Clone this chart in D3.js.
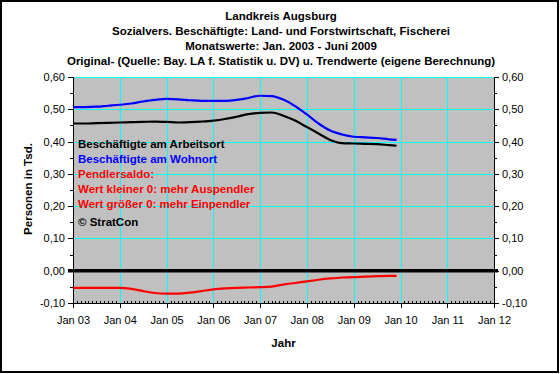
<!DOCTYPE html>
<html>
<head>
<meta charset="utf-8">
<script src="https://cdn.jsdelivr.net/npm/d3@7"></script>
<style>
  html, body { margin: 0; padding: 0; background: #fff; }
  svg { display: block; }
  text { font-family: Arial, "Liberation Sans", sans-serif; }
</style>
</head>
<body>
<svg id="chart" width="560" height="374"></svg>
<script>
// ---- Data ----
const months = ["2003-01","2003-04","2003-07","2003-10",
                "2004-01","2004-04","2004-07","2004-10",
                "2005-01","2005-04","2005-07","2005-10",
                "2006-01","2006-04","2006-07","2006-10",
                "2007-01","2007-04","2007-07","2007-10",
                "2008-01","2008-04","2008-07","2008-10",
                "2009-01","2009-04","2009-07","2009-10","2009-12"];
const arbeitsort = [0.456,0.456,0.457,0.458, 0.459,0.460,0.461,0.462,
                    0.461,0.459,0.460,0.462, 0.465,0.470,0.477,0.485,
                    0.489,0.490,0.480,0.465, 0.445,0.425,0.405,0.395,
                    0.394,0.393,0.392,0.389,0.387];
const wohnort    = [0.507,0.507,0.508,0.511, 0.514,0.518,0.524,0.529,
                    0.532,0.531,0.528,0.526, 0.526,0.526,0.529,0.535,
                    0.542,0.541,0.530,0.510, 0.484,0.456,0.434,0.422,
                    0.415,0.413,0.411,0.407,0.405];
const saldo      = [-0.053,-0.053,-0.053,-0.053, -0.053,-0.056,-0.063,-0.069,
                    -0.071,-0.071,-0.068,-0.063, -0.058,-0.055,-0.053,-0.052,
                    -0.051,-0.049,-0.043,-0.038, -0.033,-0.028,-0.024,-0.021,
                    -0.020,-0.018,-0.017,-0.016,-0.016];
const xTickYears  = [2003,2004,2005,2006,2007,2008,2009,2010,2011,2012];
const xTickLabels = ["Jan 03","Jan 04","Jan 05","Jan 06","Jan 07","Jan 08","Jan 09","Jan 10","Jan 11","Jan 12"];
const yTicks      = [-0.1,0,0.1,0.2,0.3,0.4,0.5,0.6];
const yTickLabels = ["-0,10","0,00","0,10","0,20","0,30","0,40","0,50","0,60"];
const titleLines  = ["Landkreis Augsburg",
                     "Sozialvers. Beschäftigte: Land- und Forstwirtschaft, Fischerei",
                     "Monatswerte: Jan. 2003 - Juni 2009",
                     "Original- (Quelle: Bay. LA f. Statistik u. DV) u. Trendwerte (eigene Berechnung)"];
const noteLines   = ["Beschäftigte am Arbeitsort","Beschäftigte am Wohnort","Pendlersaldo:",
                     "Wert kleiner 0: mehr Auspendler","Wert größer 0: mehr Einpendler","© StratCon"];
const noteColors  = ["#000000","#0000ff","#ff0000","#ff0000","#ff0000","#000000"];
const xLabel = "Jahr";
const yLabel = "Personen in Tsd.";

// ---- Layout ----
const svg = d3.select("#chart");
const L = 73, R = 494, T = 77, B = 303;
const parse = d3.timeParse("%Y-%m");
const dates = months.map(parse);

const x = d3.scaleTime().domain([new Date(2003,0,1), new Date(2012,0,1)]).range([L, R]);
const y = d3.scaleLinear().domain([-0.1, 0.6]).range([B, T]);

// outer frame
svg.append("rect").attr("x",1).attr("y",1).attr("width",557).attr("height",371)
  .attr("fill","#fff").attr("stroke","#000").attr("stroke-width",2);

// plot background
svg.append("rect").attr("x",L).attr("y",T).attr("width",R-L).attr("height",B-T)
  .attr("fill","#c0c0c0");

// gridlines
const grid = svg.append("g").attr("stroke","#00ffff").attr("stroke-width",1).attr("shape-rendering","crispEdges");
xTickYears.slice(1,-1).forEach(yr => {
  const xx = Math.round(x(new Date(yr,0,1))) + 0.5;
  grid.append("line").attr("x1",xx).attr("x2",xx).attr("y1",T).attr("y2",B);
});
yTicks.filter(v => v > 0.001).forEach(v => {
  const yy = Math.round(y(v)) + 0.5;
  grid.append("line").attr("x1",L).attr("x2",R).attr("y1",yy).attr("y2",yy);
});

// axes
const fmtY = (d) => yTickLabels[yTicks.findIndex(t => Math.abs(t-d) < 1e-9)];
const leftAxis = d3.axisLeft(y).tickValues(yTicks).tickFormat(fmtY).tickSize(5).tickPadding(3);
const rightAxis = d3.axisRight(y).tickValues(yTicks).tickFormat(fmtY).tickSize(5).tickPadding(3);
const xTickDates = xTickYears.map(yr => new Date(yr,0,1));
const bottomAxis = d3.axisBottom(x).tickValues(xTickDates)
  .tickFormat((d,i) => xTickLabels[i]).tickSize(5).tickPadding(8);

function styleAxis(g) {
  g.selectAll("path,line").attr("stroke","#000").attr("shape-rendering","crispEdges");
  g.selectAll("text").attr("font-size","11px").attr("fill","#000")
   .attr("font-family","Arial, 'Liberation Sans', sans-serif");
  g.select(".domain").attr("stroke-width",1);
}
svg.append("g").attr("transform",`translate(${L},0)`).call(leftAxis).call(styleAxis)
  .call(g => g.select(".domain").attr("d", `M0,${T}V${B}`));
svg.append("g").attr("transform",`translate(${R},0)`).call(rightAxis).call(styleAxis)
  .call(g => g.select(".domain").attr("d", `M0,${T}V${B}`));
svg.append("g").attr("transform",`translate(0,${B})`).call(bottomAxis).call(styleAxis)
  .call(g => g.select(".domain").attr("d", `M${L},0H${R}`));

// minor ticks
const minorY = d3.range(-0.05, 0.6, 0.1);
minorY.forEach(v => {
  const yy = Math.round(y(v)) + 0.5;
  svg.append("line").attr("x1",L-3).attr("x2",L).attr("y1",yy).attr("y2",yy).attr("stroke","#000");
  svg.append("line").attr("x1",R).attr("x2",R+3).attr("y1",yy).attr("y2",yy).attr("stroke","#000");
});
const minorX = d3.timeMonth.range(new Date(2003,0,1), new Date(2012,0,1)).filter(d => d.getMonth() !== 0);
minorX.forEach(d => {
  const xx = Math.round(x(d)) + 0.5;
  svg.append("line").attr("x1",xx).attr("x2",xx).attr("y1",B-2).attr("y2",B).attr("stroke","#000")
    .attr("shape-rendering","crispEdges");
});

// zero line
svg.append("line").attr("x1",L-5).attr("x2",R+4).attr("y1",y(0)).attr("y2",y(0))
  .attr("stroke","#000").attr("stroke-width",3.5);

// series
const line = (vals) => d3.line().x((d,i) => x(dates[i])).y(d => y(d)).curve(d3.curveMonotoneX)(vals);
svg.append("path").attr("d", line(saldo)).attr("fill","none").attr("stroke","#ff0000").attr("stroke-width",2.2);
svg.append("path").attr("d", line(arbeitsort)).attr("fill","none").attr("stroke","#000000").attr("stroke-width",2.2);
svg.append("path").attr("d", line(wohnort)).attr("fill","none").attr("stroke","#0000ff").attr("stroke-width",2.2);

// title
titleLines.forEach((t,i) => {
  svg.append("text").attr("x",281).attr("y",20 + i*15).attr("text-anchor","middle")
    .attr("font-size","11.5px").attr("font-weight","bold").attr("fill","#000").text(t);
});

// notes
noteLines.forEach((t,i) => {
  const yy = [148,163,178,193,208,226][i];
  svg.append("text").attr("x",78).attr("y",yy)
    .attr("font-size","11.5px").attr("font-weight","bold").attr("fill",noteColors[i]).text(t);
});

// axis titles
svg.append("text").attr("x",(L+R)/2).attr("y",347).attr("text-anchor","middle")
  .attr("font-size","11.5px").attr("font-weight","bold").text(xLabel);
svg.append("text").attr("transform",`translate(32,189) rotate(-90)`).attr("text-anchor","middle")
  .attr("font-size","11.5px").attr("font-weight","bold").text(yLabel);
</script>
</body>
</html>
